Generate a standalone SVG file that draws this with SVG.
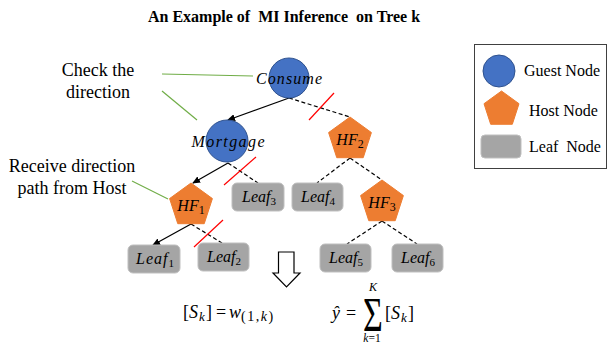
<svg xmlns="http://www.w3.org/2000/svg" width="608" height="346" viewBox="0 0 608 346">
<style>
text{font-family:"Liberation Serif","Times New Roman",serif;fill:#000}
.title{font-size:16px;font-weight:bold}
.ann{font-size:18px}
.leg{font-size:16px}
.m{font-style:italic;font-size:16px}
.i{font-style:italic}
.guest{fill:#4472C4;stroke:#2F528F;stroke-width:1}
.host{fill:#ED7D31;stroke:#ED7D31;stroke-width:1}
.leaf{fill:#A5A5A5;stroke:#BFBFBF;stroke-width:1}
.solid{stroke:#000;stroke-width:1.3;fill:none;marker-end:url(#ah)}
.dash{stroke:#000;stroke-width:1.2;fill:none;stroke-dasharray:4 2.5}
.cut{stroke:#FF0000;stroke-width:1.2}
.green{stroke:#70AD47;stroke-width:1.2}
</style>
<defs>
<marker id="ah" markerUnits="userSpaceOnUse" markerWidth="8" markerHeight="7" refX="7" refY="3.5" orient="auto">
<path d="M0,0 L8,3.5 L0,7 Z" fill="#000"/>
</marker>
</defs>
<rect width="608" height="346" fill="#fff"/>
<text class="title" x="284" y="22" text-anchor="middle" xml:space="preserve">An Example of  MI Inference  on Tree k</text>

<g id="annotations">
<text class="ann" x="98" y="76" text-anchor="middle">Check the</text>
<text class="ann" x="98" y="98" text-anchor="middle">direction</text>
<text class="ann" x="72" y="172" text-anchor="middle">Receive direction</text>
<text class="ann" x="72" y="194" text-anchor="middle">path from Host</text>
<line class="green" x1="162" y1="74" x2="253" y2="76"/>
<line class="green" x1="162" y1="91" x2="197" y2="120"/>
<line class="green" x1="132" y1="181" x2="168" y2="199"/>
</g>

<g id="connectors">
<line class="solid" x1="289" y1="98" x2="228" y2="120"/>
<line class="dash" x1="289" y1="98" x2="350" y2="117"/>
<line class="solid" x1="228" y1="163" x2="193" y2="183"/>
<line class="dash" x1="228" y1="163" x2="258" y2="183"/>
<line class="solid" x1="191" y1="224" x2="153" y2="245"/>
<line class="dash" x1="191" y1="224" x2="222" y2="243"/>
<line class="dash" x1="350" y1="158" x2="317" y2="183"/>
<line class="dash" x1="350" y1="158" x2="382" y2="180"/>
<line class="dash" x1="382" y1="221" x2="347" y2="244"/>
<line class="dash" x1="382" y1="221" x2="417" y2="244"/>
<line class="cut" x1="309" y1="120" x2="334" y2="93"/>
<line class="cut" x1="224" y1="185" x2="256" y2="157"/>
<line class="cut" x1="194" y1="247" x2="223" y2="220"/>
</g>

<g id="consume">
<circle class="guest" cx="289" cy="78" r="20"/>
<text class="m" x="289" y="84" text-anchor="middle" font-size="17" textLength="66">Consume</text>
</g>
<g id="mortgage">
<circle class="guest" cx="227" cy="141" r="21"/>
<text class="m" x="228" y="147" text-anchor="middle" font-size="17" textLength="73">Mortgage</text>
</g>
<g id="hf1">
<polygon class="host" points="191,183 212.4,198.55 204.23,223.7 177.77,223.7 169.6,198.55"/>
<text class="m" x="191" y="211" text-anchor="middle" font-size="17">HF<tspan font-style="normal" font-size="12" dy="3">1</tspan></text>
</g>
<g id="hf2">
<polygon class="host" points="350,117 371.4,132.55 363.23,157.7 336.77,157.7 328.6,132.55"/>
<text class="m" x="350" y="145" text-anchor="middle" font-size="17">HF<tspan font-style="normal" font-size="12" dy="3">2</tspan></text>
</g>
<g id="hf3">
<polygon class="host" points="382,180 403.4,195.55 395.23,220.7 368.77,220.7 360.6,195.55"/>
<text class="m" x="382" y="208" text-anchor="middle" font-size="17">HF<tspan font-style="normal" font-size="12" dy="3">3</tspan></text>
</g>
<g id="leaf1">
<rect class="leaf" x="128" y="245" width="52" height="28" rx="5"/>
<text class="m" x="155" y="264" text-anchor="middle" font-size="17" letter-spacing="1">Leaf<tspan font-style="normal" font-size="11" dy="3" letter-spacing="0">1</tspan></text>
</g>
<g id="leaf2">
<rect class="leaf" x="198" y="243" width="51" height="28" rx="5"/>
<text class="m" x="224" y="262" text-anchor="middle" font-size="17">Leaf<tspan font-style="normal" font-size="11" dy="3">2</tspan></text>
</g>
<g id="leaf3">
<rect class="leaf" x="232" y="183" width="52" height="28" rx="5"/>
<text class="m" x="259" y="202" text-anchor="middle" font-size="17">Leaf<tspan font-style="normal" font-size="11" dy="3">3</tspan></text>
</g>
<g id="leaf4">
<rect class="leaf" x="292" y="183" width="51" height="28" rx="5"/>
<text class="m" x="318" y="202" text-anchor="middle" font-size="17">Leaf<tspan font-style="normal" font-size="11" dy="3">4</tspan></text>
</g>
<g id="leaf5">
<rect class="leaf" x="320" y="244" width="51" height="28" rx="5"/>
<text class="m" x="346" y="263" text-anchor="middle" font-size="17">Leaf<tspan font-style="normal" font-size="11" dy="3">5</tspan></text>
</g>
<g id="leaf6">
<rect class="leaf" x="392" y="244" width="51" height="28" rx="5"/>
<text class="m" x="418" y="263" text-anchor="middle" font-size="17">Leaf<tspan font-style="normal" font-size="11" dy="3">6</tspan></text>
</g>

<g id="down-arrow">
<path d="M278.5,252 H294 V273 H300 L286.5,287 L273,273 H278.5 Z" fill="#fff" stroke="#000" stroke-width="1.2"/>
</g>

<g id="formula-left">
<text y="318" font-size="18"><tspan x="183">[</tspan><tspan class="i" x="189">S</tspan><tspan class="i" font-size="13" x="199" dy="3">k</tspan><tspan x="206" dy="-3">]</tspan><tspan x="216">=</tspan><tspan class="i" x="229">w</tspan><tspan font-size="14" x="241" dy="3" letter-spacing="1.5">(1,<tspan class="i">k</tspan>)</tspan></text>
</g>
<g id="formula-right">
<text y="319" font-size="18"><tspan class="i" x="332">ŷ</tspan><tspan x="346">=</tspan></text>
<text transform="translate(373,331) scale(0.85,1.2)" x="0" y="0" font-size="40" text-anchor="middle">Σ</text>
<text x="373" y="291" font-size="12" font-style="italic" text-anchor="middle">K</text>
<text x="372" y="342" font-size="11.5" text-anchor="middle"><tspan class="i">k</tspan>=1</text>
<text y="319" font-size="18"><tspan x="385">[</tspan><tspan class="i" x="391">S</tspan><tspan class="i" font-size="13" x="401" dy="3">k</tspan><tspan x="408" dy="-3">]</tspan></text>
</g>

<g id="legend">
<rect x="474.5" y="44.5" width="132" height="124" fill="#fff" stroke="#404040" stroke-width="1"/>
<circle class="guest" cx="499" cy="71" r="16"/>
<text class="leg" x="524" y="76">Guest Node</text>
<polygon class="host" points="501.5,91 519,103.71 512.32,124.29 490.68,124.29 484,103.71"/>
<text class="leg" x="529" y="116">Host Node</text>
<rect class="leaf" x="481" y="135" width="40" height="23" rx="4"/>
<text class="leg" x="529" y="152" xml:space="preserve">Leaf  Node</text>
</g>
</svg>
